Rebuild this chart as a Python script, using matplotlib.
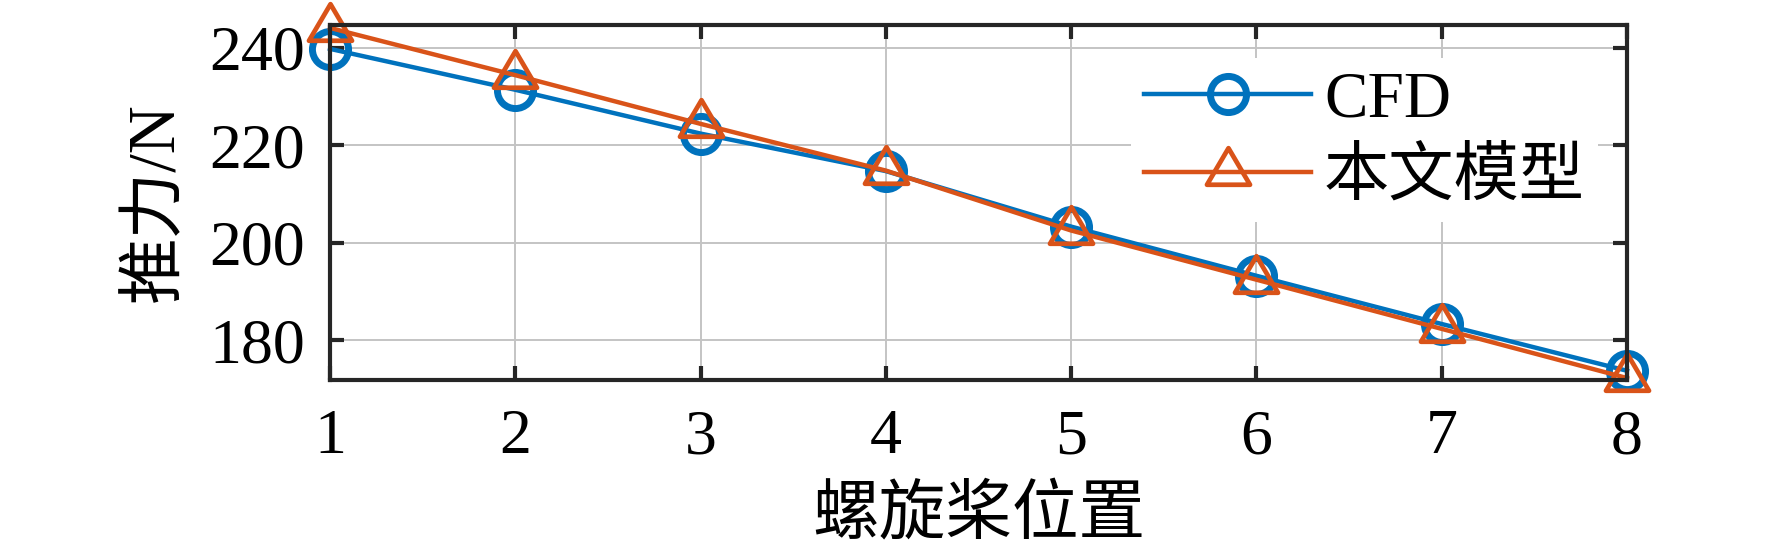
import numpy as np
import matplotlib
matplotlib.use("Agg")
import matplotlib.pyplot as plt
from matplotlib.path import Path

plt.rcParams['font.family'] = ['Liberation Serif', 'Noto Sans CJK SC']

# data
positions = [1, 2, 3, 4, 5, 6, 7, 8]
cfd = [239.8, 231.4, 222.4, 214.7, 203.3, 193.2, 183.3, 173.7]
model = [244.1, 234.4, 224.4, 214.8, 202.5, 192.4, 182.3, 172.2]
labels = ['CFD', '本文模型']
xlabel = '螺旋桨位置'
ylabel = '推力/N'

blue = '#0072BD'
orange = '#D95319'
dark = '#262626'

# MATLAB-style triangle, centred on its centroid
tri = Path([(0, 1.13), (-1, -0.57), (1, -0.57), (0, 1.13)],
           [Path.MOVETO, Path.LINETO, Path.LINETO, Path.CLOSEPOLY])

fig = plt.figure(figsize=(17.72, 5.47), dpi=100)
ax = fig.add_axes([330 / 1772, 1 - 380 / 547, 1297 / 1772, 355 / 547])

ax.plot(positions, cfd, color=blue, lw=3.2, marker='o', ms=26,
        mfc='none', mec=blue, mew=5.0, clip_on=False, zorder=3, label=labels[0])
ax.plot(positions, model, color=orange, lw=3.2, marker=tri, ms=35,
        mfc='none', mec=orange, mew=3.4, clip_on=False, zorder=4, label=labels[1])

ax.set_xlim(1, 8)
ax.set_ylim(171.8, 244.7)
ax.set_xticks(positions)
ax.set_yticks([180, 200, 220, 240])

ax.grid(True, color='#C4C4C4', lw=1.4)
ax.set_axisbelow(True)
for s in ax.spines.values():
    s.set_color(dark)
    s.set_linewidth(3.0)
    s.set_zorder(5)
ax.tick_params(direction='in', length=10, width=3.0, colors=dark,
               top=True, right=True, labelsize=46, labelcolor='black')
ax.tick_params(axis='x', pad=21)
ax.tick_params(axis='y', pad=18)

ax.set_xlabel(xlabel, fontsize=48, labelpad=14)
ax.set_ylabel(ylabel, fontsize=48, labelpad=16)

leg = ax.legend(loc='upper right', bbox_to_anchor=((1598 - 330) / 1297, (380 - 58) / 355),
                fontsize=47, frameon=True, fancybox=False, framealpha=1,
                edgecolor='none', handlelength=2.55, handletextpad=0.2,
                labelspacing=0.27, borderpad=0.2, borderaxespad=0)

plt.savefig('out.png', dpi=100)
